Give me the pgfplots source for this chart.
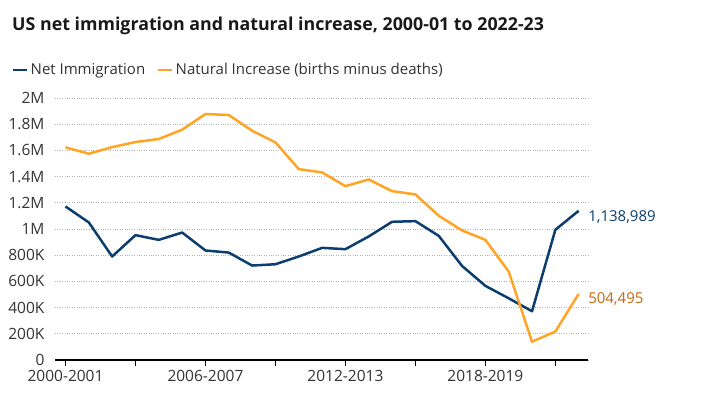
\documentclass[border=0pt]{standalone}
\usepackage{fontspec}
\setmainfont{Open Sans}
\usepackage{pgfplots}
\pgfplotsset{compat=1.18}
\definecolor{navy}{HTML}{0B3D6E}
\definecolor{orng}{HTML}{FFA424}
\definecolor{orngtxt}{HTML}{C4680C}
\definecolor{txt}{HTML}{333333}
\begin{document}
\begin{tikzpicture}[x=1pt,y=1pt]
\path[use as bounding box] (0,0) rectangle (706,396);
\node[anchor=west,font=\fontsize{17.8}{20}\selectfont\bfseries,text=black!90,inner sep=0] at (12,370) {US net immigration and natural increase, 2000-01 to 2022-23};
\begin{axis}[
  at={(55pt,36pt)}, anchor=south west,
  scale only axis, width=533pt, height=262pt,
  xmin=-0.45, xmax=22.4, ymin=0, ymax=2000000,
  axis x line=bottom, axis y line=left,
  y axis line style={draw=none},
  x axis line style={-, line width=1.2pt, black},
  xtick={0,3,6,9,12,15,18,21},
  xticklabels={2000-2001,,2006-2007,,2012-2013,,2018-2019,},
  xtick style={black, line width=1pt},
  tick align=outside, major tick length=6pt,
  ytick={0,200000,400000,600000,800000,1000000,1200000,1400000,1600000,1800000,2000000},
  yticklabels={0,200K,400K,600K,800K,1M,1.2M,1.4M,1.6M,1.8M,2M},
  ytick style={draw=none},
  scaled y ticks=false,
  ymajorgrids, grid style={dotted, line width=0.8pt, black!30},
  tick label style={font=\fontsize{15.5}{17}\selectfont, text=txt},
  /pgf/number format/assume math mode=true,
  yticklabel style={xshift=-1pt},
  xticklabel style={yshift=-1pt},
  clip=false,
  legend columns=2,
  legend style={at={(axis description cs:0,1)}, anchor=west, xshift=-43pt, yshift=28pt,
    draw=none, fill=none, font=\fontsize{15}{17}\selectfont, text=txt,
    /tikz/every even column/.style={column sep=10pt}, inner sep=0pt},
  legend image code/.code={\draw[#1, line width=2.5pt] (0pt,0pt) -- (14pt,0pt);},
]
\addplot[navy, line width=2.5pt, line join=round] coordinates {
(0,1172000)(1,1050000)(2,790000)(3,953000)(4,917000)(5,973000)(6,836000)(7,820000)
(8,721000)(9,731000)(10,790000)(11,856000)(12,846000)(13,943000)(14,1055000)(15,1060000)
(16,948000)(17,718000)(18,566000)(19,471000)(20,372000)(21,994000)(22,1138989)}
 node[pos=1, anchor=west, xshift=5pt, yshift=-6pt, text=navy, font=\fontsize{15}{17}\selectfont] {1,138,989};
\addlegendentry{Net Immigration}
\addplot[orng, line width=2.5pt, line join=round] coordinates {
(0,1623000)(1,1575000)(2,1625000)(3,1664000)(4,1687000)(5,1758000)(6,1878000)(7,1870000)
(8,1750000)(9,1661000)(10,1457000)(11,1432000)(12,1327000)(13,1378000)(14,1289000)(15,1264000)
(16,1101000)(17,989000)(18,917000)(19,675000)(20,140000)(21,217000)(22,504495)}
 node[pos=1, anchor=west, xshift=5pt, yshift=-5pt, text=orngtxt, font=\fontsize{15}{17}\selectfont] {504,495};
\addlegendentry{Natural Increase (births minus deaths)}
\end{axis}
\end{tikzpicture}
\end{document}
